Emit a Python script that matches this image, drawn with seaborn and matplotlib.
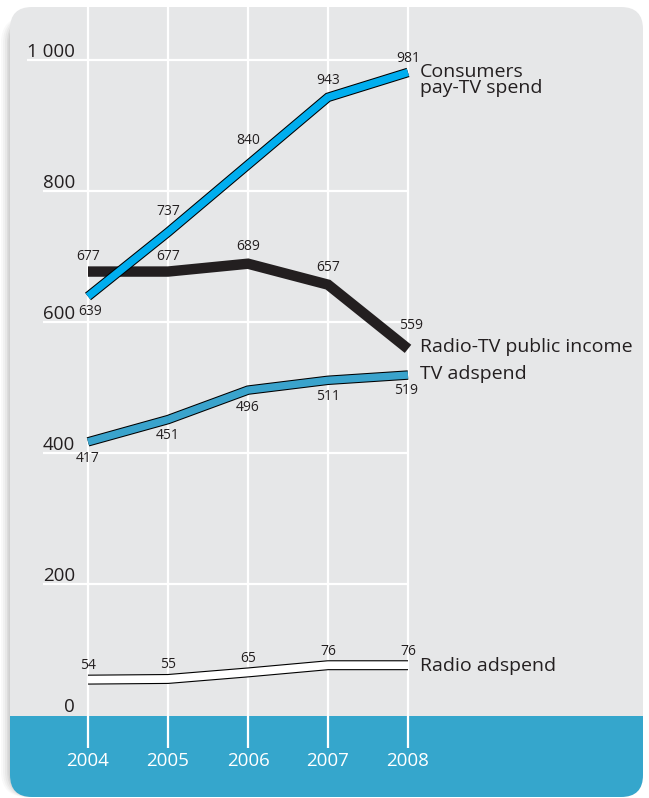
import matplotlib.pyplot as plt
import matplotlib.patheffects as pe
from matplotlib.patches import FancyBboxPatch, Rectangle
from matplotlib.transforms import Affine2D
import seaborn as sns

years = [2004, 2005, 2006, 2007, 2008]
pay_tv = [639, 737, 840, 943, 981]
public_income = [677, 677, 689, 657, 559]
tv_adspend = [417, 451, 496, 511, 519]
radio_adspend = [54, 55, 65, 76, 76]
y_ticks = [0, 200, 400, 600, 800, 1000]
y_tick_labels = ['0', '200', '400', '600', '800', '1 000']

sns.set_theme(style='white')
plt.rcParams['font.family'] = ['Open Sans', 'DejaVu Sans']

TXT = '#231f20'
W, H = 649, 798
fig = plt.figure(figsize=(W / 100, H / 100), dpi=100)
ax = fig.add_axes([0, 0, 1, 1])
# 80 px per year, 131 px per 200 units, zero at 715 px from top
ax.set_xlim(2004 - 88 / 80, 2004 + (W - 88) / 80)
ax.set_ylim((715 - H) / 0.655, 715 / 0.655)
ax.axis('off')
px = Affine2D().scale(1 / W, 1 / H) + ax.transAxes  # pixel units, origin bottom-left

# shadow + panel + bottom band
for s, a in [(9, 0.03), (7, 0.04), (5, 0.05), (3, 0.07), (1.5, 0.08)]:
    ax.add_patch(FancyBboxPatch((10 - s, 1), 633, 780, boxstyle='round,pad=0,rounding_size=26',
                                transform=px, fc='#444444', ec='none', alpha=a, zorder=0))
panel = FancyBboxPatch((10, 1), 633, 790, boxstyle='round,pad=0,rounding_size=22',
                       transform=px, fc='#e6e7e8', ec='none', zorder=0.5)
ax.add_patch(panel)
band = Rectangle((0, 0), W, H - 716, transform=px, fc='#35a6cc', ec='none', zorder=0.6)
band.set_clip_path(panel)
ax.add_patch(band)

# grid
ax.vlines(years, (715 - 748) / 0.655, (715 - 7) / 0.655, color='white', lw=1.6, zorder=1)
x_lab = 2004 - 13 / 80
renderer = fig.canvas.get_renderer()
for v, lab in zip(y_ticks, y_tick_labels):
    t = ax.annotate(lab, (x_lab, v), xytext=(0, 2), textcoords='offset points',
                    ha='right', va='baseline', fontsize=13.5, color=TXT, zorder=2)
    if v > 0:
        x0 = ax.transData.inverted().transform(t.get_window_extent(renderer))[0][0]
        ax.hlines(v, x0, years[-1], color='white', lw=1.6, zorder=1)

for y in years:
    ax.text(y, (715 - 761) / 0.655, str(y), ha='center', va='center',
            fontsize=13.5, color='white', zorder=2)

outline = lambda w: [pe.Stroke(linewidth=w, foreground='black'), pe.Normal()]
common = dict(ax=ax, solid_capstyle='butt', solid_joinstyle='miter', legend=False)
sns.lineplot(x=years, y=radio_adspend, color='white', linewidth=5.6, path_effects=outline(7.2), zorder=3, **common)
sns.lineplot(x=years, y=tv_adspend, color='#3aa3cc', linewidth=5.3, path_effects=outline(6.8), zorder=3, **common)
sns.lineplot(x=years, y=public_income, color='#231f20', linewidth=7.5, zorder=3, **common)
sns.lineplot(x=years, y=pay_tv, color='#00aeef', linewidth=5.4, path_effects=outline(6.9), zorder=4, **common)

series = [
    (pay_tv, [(2, -15), (0, 21), (0, 24), (0, 17), (0, 14)], 'Consumers\npay-TV spend', 8),
    (public_income, [(0, 15), (0, 15), (0, 17), (0, 17), (3, 23)], 'Radio-TV public income', -2),
    (tv_adspend, [(0, -17), (0, -16), (0, -17), (0, -16), (-2, -15)], 'TV adspend', -1),
    (radio_adspend, [(0, 14)] * 5, 'Radio adspend', 1),
]
for vals, offs, name, dy in series:
    for x, v, (ox, oy) in zip(years, vals, offs):
        ax.annotate(str(v), (x, v), xytext=(ox * 0.72, oy * 0.72), textcoords='offset points',
                    ha='center', va='center', fontsize=10, color=TXT, zorder=5)
    ax.annotate(name, (years[-1], vals[-1]), xytext=(12 * 0.72, -dy * 0.72), textcoords='offset points',
                ha='left', va='center', fontsize=14, color=TXT, linespacing=0.85, zorder=5)

fig.savefig('out.png', dpi=100, facecolor='white')
